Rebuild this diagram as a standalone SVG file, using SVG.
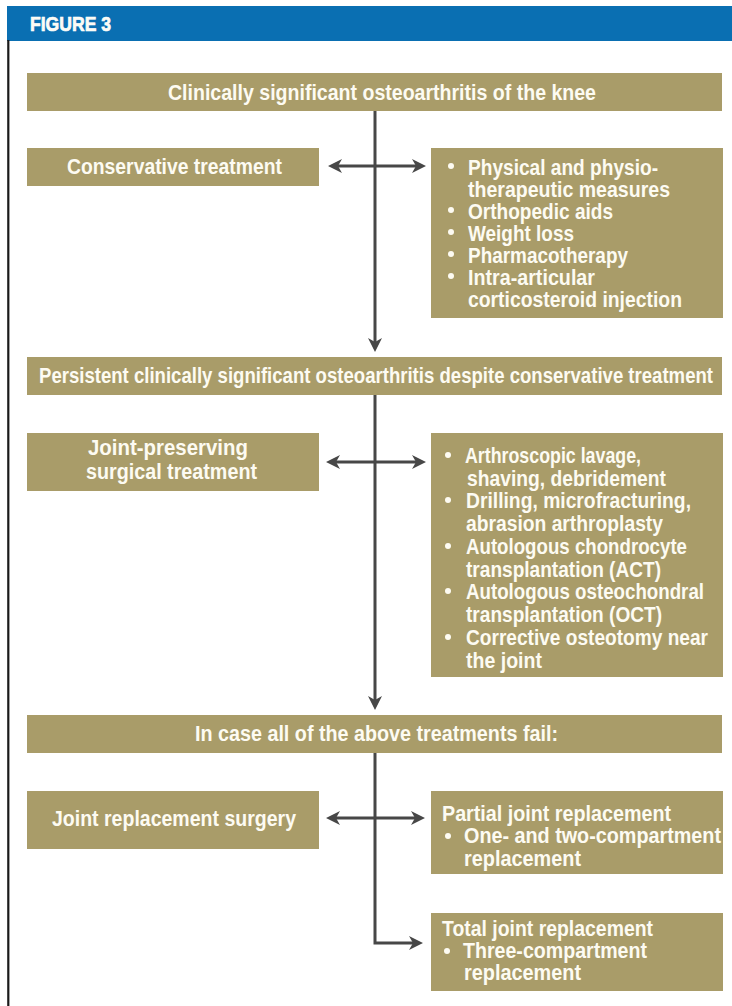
<svg xmlns="http://www.w3.org/2000/svg" width="732" height="1006" viewBox="0 0 732 1006">
  <style>
    .box { fill: #a99c69; }
    .t { font-family: "Liberation Sans", Arial, sans-serif; font-weight: bold; fill: #fdfbf2; }
    .h { font-size: 22px; }
    .b { font-size: 21.5px; }
    .s { font-size: 21.5px; }
    .mid { text-anchor: middle; }
    .dot { fill: #fdfbf2; }
    .link { stroke: #474747; stroke-width: 3; fill: none; }
  </style>
  <defs>
    <marker id="head" markerUnits="userSpaceOnUse" viewBox="0 0 14 14" markerWidth="14" markerHeight="14" refX="4" refY="7" orient="auto-start-reverse">
      <path d="M0,0 L14,7 L0,14 L4,7 Z" fill="#474747"/>
    </marker>
  </defs>

  <rect x="0" y="0" width="732" height="1006" fill="#ffffff"/>

  <!-- title bar and frame -->
  <g id="title">
    <rect x="7" y="6" width="725" height="35" fill="#0a6fb2"/>
    <text class="t" x="30" y="31" font-size="21" stroke="#ffffff" stroke-width="0.7" fill="#ffffff" textLength="81" lengthAdjust="spacingAndGlyphs">FIGURE 3</text>
    <line x1="8.3" y1="40" x2="8.3" y2="1006" stroke="#1a1a1a" stroke-width="2.2"/>
  </g>

  <!-- connectors -->
  <g id="connectors">
    <line class="link" x1="375" y1="111" x2="375" y2="342" marker-end="url(#head)"/>
    <line class="link" x1="375" y1="395" x2="375" y2="700" marker-end="url(#head)"/>
    <polyline class="link" points="375,753 375,943 413,943" marker-end="url(#head)"/>
    <line class="link" x1="338" y1="166" x2="416" y2="166" marker-start="url(#head)" marker-end="url(#head)"/>
    <line class="link" x1="336" y1="462" x2="416" y2="462" marker-start="url(#head)" marker-end="url(#head)"/>
    <line class="link" x1="336" y1="818" x2="415" y2="818" marker-start="url(#head)" marker-end="url(#head)"/>
  </g>

  <!-- level 1 -->
  <g id="oa-knee">
    <rect class="box" x="27" y="73" width="695" height="38"/>
    <text class="t h" x="168" y="100" textLength="428" lengthAdjust="spacingAndGlyphs">Clinically significant osteoarthritis of the knee</text>
  </g>
  <g id="conservative">
    <rect class="box" x="27" y="148" width="292" height="38"/>
    <text class="t h" x="67" y="174" textLength="215" lengthAdjust="spacingAndGlyphs">Conservative treatment</text>
  </g>
  <g id="conservative-options">
    <rect class="box" x="431" y="148" width="292" height="170"/>
    <circle class="dot" cx="451" cy="166" r="3"/>
    <circle class="dot" cx="451" cy="210" r="3"/>
    <circle class="dot" cx="451" cy="232" r="3"/>
    <circle class="dot" cx="451" cy="254" r="3"/>
    <circle class="dot" cx="451" cy="276" r="3"/>
    <text class="t b" x="468" y="175" textLength="190" lengthAdjust="spacingAndGlyphs">Physical and physio-</text>
    <text class="t b" x="468" y="197" textLength="202" lengthAdjust="spacingAndGlyphs">therapeutic measures</text>
    <text class="t b" x="468" y="219" textLength="145" lengthAdjust="spacingAndGlyphs">Orthopedic aids</text>
    <text class="t b" x="468" y="241" textLength="106" lengthAdjust="spacingAndGlyphs">Weight loss</text>
    <text class="t b" x="468" y="263" textLength="160" lengthAdjust="spacingAndGlyphs">Pharmacotherapy</text>
    <text class="t b" x="468" y="285" textLength="127" lengthAdjust="spacingAndGlyphs">Intra-articular</text>
    <text class="t b" x="468" y="307" textLength="214" lengthAdjust="spacingAndGlyphs">corticosteroid injection</text>
  </g>

  <!-- level 2 -->
  <g id="persistent">
    <rect class="box" x="27" y="357" width="695" height="38"/>
    <text class="t h" x="39" y="383" textLength="674" lengthAdjust="spacingAndGlyphs">Persistent clinically significant osteoarthritis despite conservative treatment</text>
  </g>
  <g id="joint-preserving">
    <rect class="box" x="27" y="433" width="292" height="58"/>
    <text class="t h mid" x="168" y="455" textLength="160" lengthAdjust="spacingAndGlyphs">Joint-preserving</text>
    <text class="t h mid" x="171.5" y="479" textLength="171" lengthAdjust="spacingAndGlyphs">surgical treatment</text>
  </g>
  <g id="surgical-options">
    <rect class="box" x="431" y="433" width="292" height="244"/>
    <circle class="dot" cx="448" cy="455" r="3"/>
    <circle class="dot" cx="448" cy="500" r="3"/>
    <circle class="dot" cx="448" cy="546" r="3"/>
    <circle class="dot" cx="448" cy="591" r="3"/>
    <circle class="dot" cx="448" cy="637" r="3"/>
    <text class="t b" x="465" y="463" textLength="176" lengthAdjust="spacingAndGlyphs">Arthroscopic lavage,</text>
    <text class="t b" x="467" y="486" textLength="199" lengthAdjust="spacingAndGlyphs">shaving, debridement</text>
    <text class="t b" x="466" y="508" textLength="225" lengthAdjust="spacingAndGlyphs">Drilling, microfracturing,</text>
    <text class="t b" x="466" y="531" textLength="197" lengthAdjust="spacingAndGlyphs">abrasion arthroplasty</text>
    <text class="t b" x="466" y="554" textLength="221" lengthAdjust="spacingAndGlyphs">Autologous chondrocyte</text>
    <text class="t b" x="466" y="577" textLength="195" lengthAdjust="spacingAndGlyphs">transplantation (ACT)</text>
    <text class="t b" x="466" y="599" textLength="238" lengthAdjust="spacingAndGlyphs">Autologous osteochondral</text>
    <text class="t b" x="466" y="622" textLength="196" lengthAdjust="spacingAndGlyphs">transplantation (OCT)</text>
    <text class="t b" x="466" y="645" textLength="242" lengthAdjust="spacingAndGlyphs">Corrective osteotomy near</text>
    <text class="t b" x="466" y="668" textLength="76" lengthAdjust="spacingAndGlyphs">the joint</text>
  </g>

  <!-- level 3 -->
  <g id="all-failed">
    <rect class="box" x="27" y="715" width="695" height="38"/>
    <text class="t h" x="195" y="741" textLength="363" lengthAdjust="spacingAndGlyphs">In case all of the above treatments fail:</text>
  </g>
  <g id="replacement">
    <rect class="box" x="27" y="791" width="292" height="58"/>
    <text class="t h" x="52" y="826" textLength="244" lengthAdjust="spacingAndGlyphs">Joint replacement surgery</text>
  </g>
  <g id="partial">
    <rect class="box" x="431" y="791" width="292" height="83"/>
    <circle class="dot" cx="448" cy="836" r="3"/>
    <text class="t s" x="442" y="821" textLength="229" lengthAdjust="spacingAndGlyphs">Partial joint replacement</text>
    <text class="t s" x="464" y="843" textLength="257" lengthAdjust="spacingAndGlyphs">One- and two-compartment</text>
    <text class="t s" x="464" y="866" textLength="117" lengthAdjust="spacingAndGlyphs">replacement</text>
  </g>
  <g id="total">
    <rect class="box" x="431" y="913" width="292" height="78"/>
    <circle class="dot" cx="447" cy="951" r="3"/>
    <text class="t s" x="442" y="936" textLength="211" lengthAdjust="spacingAndGlyphs">Total joint replacement</text>
    <text class="t s" x="463" y="958" textLength="184" lengthAdjust="spacingAndGlyphs">Three-compartment</text>
    <text class="t s" x="464" y="980" textLength="117" lengthAdjust="spacingAndGlyphs">replacement</text>
  </g>
</svg>
